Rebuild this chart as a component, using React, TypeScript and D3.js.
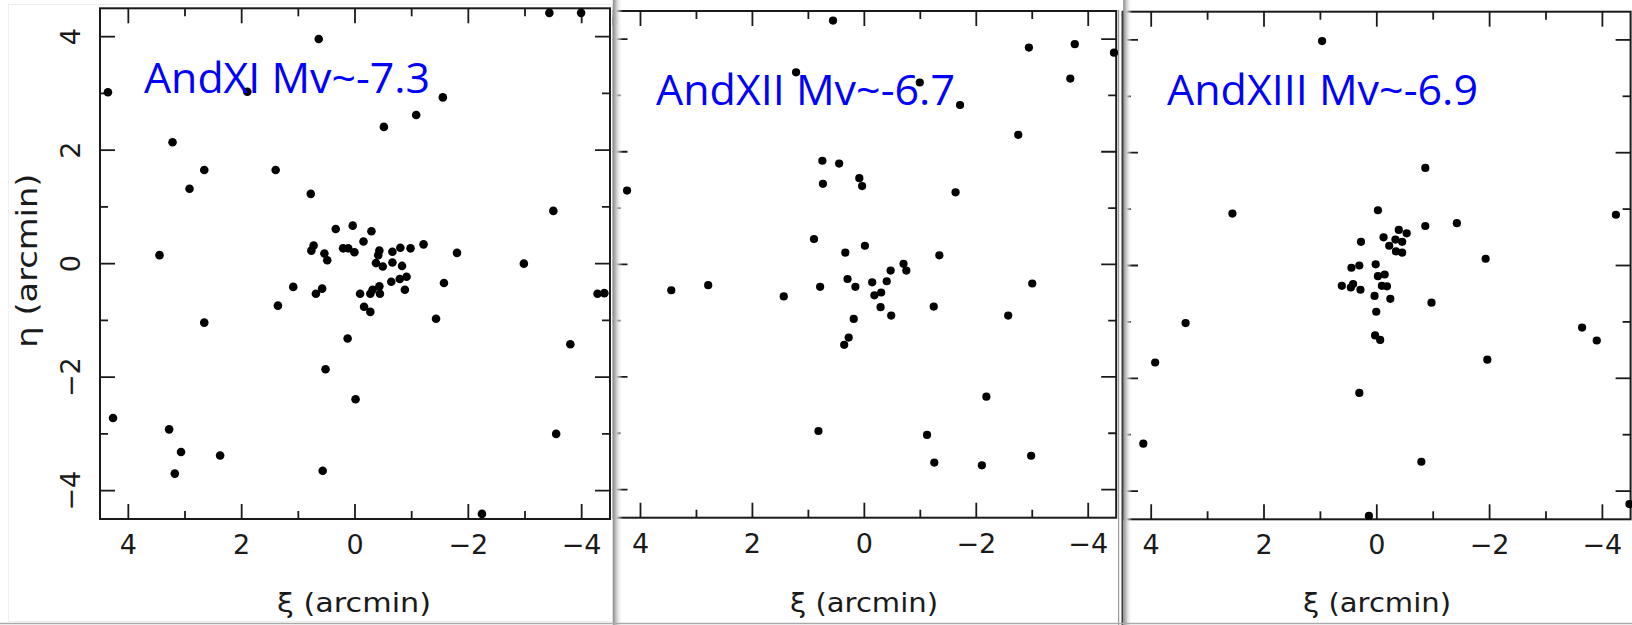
import React from 'react';
import * as d3 from 'd3';

// ---------- data ----------
const majorTicks = [4, 2, 0, -2, -4];
const majorTickLabels = ['4', '2', '0', '−2', '−4'];
const minorTicks = [3, 1, -1, -3];
const axisDomain: [number, number] = [4.5, -4.5];

const titles = ['AndXI Mv~-7.3', 'AndXII Mv~-6.7', 'AndXIII Mv~-6.9'];
const xLabel = 'ξ (arcmin)';
const yLabel = 'η (arcmin)';

const andXI_xi = [-3.43, -3.99, 0.64, 4.36, 1.9, -1.55, -1.08, -0.51, 3.22, 2.66, 1.4, 2.92, 0.78, -3.5, 0.34, 0.04, -0.29, -0.15, 0.73, 0.77, 0.21, 0.12, 0.01, -0.43, -0.41, -0.66, -0.8, -0.98, -1.21, -1.8, 3.45, 0.54, 0.49, -0.37, -0.49, -0.66, -0.83, -2.98, -0.91, -0.79, -0.64, -1.57, 1.09, 0.58, 0.69, -0.09, -0.31, -0.27, -0.43, -0.44, -0.88, -4.28, -4.4, 1.36, -0.16, -0.27, 2.66, -1.43, 0.13, -3.8, 0.52, -0.01, 4.27, 3.28, -3.55, 3.07, 2.38, 3.18, 0.57, -2.24];
const andXI_eta = [4.42, 4.42, 3.96, 3.02, 3.03, 2.93, 2.62, 2.41, 2.14, 1.65, 1.65, 1.32, 1.23, 0.93, 0.61, 0.67, 0.57, 0.39, 0.32, 0.23, 0.27, 0.27, 0.2, 0.23, 0.15, 0.21, 0.28, 0.27, 0.34, 0.19, 0.15, 0.18, 0.06, 0.01, -0.05, 0.02, -0.04, 0.0, -0.23, -0.27, -0.32, -0.34, -0.41, -0.44, -0.53, -0.53, -0.46, -0.53, -0.4, -0.53, -0.46, -0.53, -0.52, -0.74, -0.76, -0.85, -1.04, -0.97, -1.32, -1.42, -1.86, -2.39, -2.72, -2.92, -3.0, -3.32, -3.38, -3.7, -3.65, -4.41];

const andXII_xi = [4.49, 0.56, -2.94, -3.76, -4.46, -3.68, 1.22, -0.99, -1.71, -2.75, 0.75, 0.45, 0.74, 0.09, 0.04, 4.24, -1.63, 0.9, -0.01, 0.34, -1.34, -0.7, -0.75, -0.47, 0.3, 0.16, -0.14, -0.4, 0.79, 2.79, 3.45, 1.44, -0.18, -0.3, -0.29, -0.48, -3.0, -1.24, -2.57, 0.19, 0.28, 0.36, -2.18, 0.82, -1.12, -1.25, -2.1, -2.98];
const andXII_eta = [4.31, 4.33, 3.85, 3.91, 3.76, 3.3, 3.41, 3.23, 2.83, 2.3, 1.84, 1.79, 1.43, 1.53, 1.39, 1.31, 1.28, 0.45, 0.33, 0.21, 0.16, 0.01, -0.11, -0.11, -0.26, -0.4, -0.32, -0.3, -0.4, -0.37, -0.46, -0.57, -0.55, -0.5, -0.76, -0.91, -0.34, -0.75, -0.91, -0.97, -1.3, -1.43, -2.35, -2.96, -3.03, -3.52, -3.57, -3.4];

const andXIII_xi = [0.97, -0.86, 2.56, -0.02, -4.24, -0.86, -1.42, -0.39, -0.53, -0.12, -0.33, -0.45, -0.22, -0.34, -0.45, 0.28, -1.93, 0.45, 0.31, 0.02, -0.02, -0.14, 0.62, 0.46, 0.42, 0.29, -0.09, -0.18, -0.24, 0.04, -0.97, 0.01, 3.39, 0.03, -0.06, -3.64, -3.9, 3.93, -1.96, 0.31, 4.14, -0.79, 0.14, -4.48];
const andXIII_eta = [3.98, 1.73, 0.92, 0.98, 0.9, 0.7, 0.75, 0.63, 0.57, 0.5, 0.46, 0.42, 0.35, 0.25, 0.23, 0.42, 0.12, -0.04, 0.0, 0.02, -0.19, -0.16, -0.36, -0.39, -0.33, -0.43, -0.36, -0.37, -0.59, -0.54, -0.66, -0.82, -1.02, -1.24, -1.32, -1.1, -1.33, -1.72, -1.67, -2.26, -3.16, -3.48, -4.44, -4.23];

const seriesXi = [andXI_xi, andXII_xi, andXIII_xi];
const seriesEta = [andXI_eta, andXII_eta, andXIII_eta];

// ---------- layout ----------
type Layout = {
  x0: number; x1: number; y0: number; y1: number;
  clipX0: number; clipX1: number;
  titleX: number; titleY: number; titleLen: number;
  xLabelX: number; xLabelLen: number;
  showY: boolean; r: number;
};

const layouts: Layout[] = [
  { x0: 100, x1: 610, y0: 8.3, y1: 519, clipX0: 0, clipX1: 612.5, titleX: 144, titleY: 92.5, titleLen: 286, xLabelX: 354, xLabelLen: 154, showY: true, r: 4.3 },
  { x0: 612.5, x1: 1116.2, y0: 11, y1: 517.7, clipX0: 612.8, clipX1: 1118.6, titleX: 656, titleY: 104.5, titleLen: 299, xLabelX: 864, xLabelLen: 148, showY: false, r: 4.1 },
  { x0: 1123, x1: 1630.6, y0: 11.7, y1: 519.3, clipX0: 1121.5, clipX1: 1632, titleX: 1167, titleY: 104.5, titleLen: 311, xLabelX: 1377, xLabelLen: 148, showY: false, r: 4.1 },
];

const tickFont = '"DejaVu Sans", sans-serif';
const titleFont = '"Open Sans", "Noto Sans", sans-serif';

function Panel({ i }: { i: number }) {
  const L = layouts[i];
  const xs = d3.scaleLinear().domain(axisDomain).range([L.x0, L.x1]);
  const ys = d3.scaleLinear().domain([-4.5, 4.5]).range([L.y1, L.y0]);
  const xi = seriesXi[i];
  const eta = seriesEta[i];
  const major = 15;
  const minor = 8;
  const stroke = '#1a1a1a';
  const ticks: JSX.Element[] = [];
  const addTicks = (vals: number[], len: number, key: string) => {
    vals.forEach((v, k) => {
      const x = xs(v);
      const y = ys(v);
      ticks.push(<line key={`${key}b${k}`} x1={x} x2={x} y1={L.y1} y2={L.y1 - len} />);
      ticks.push(<line key={`${key}t${k}`} x1={x} x2={x} y1={L.y0} y2={L.y0 + len} />);
      ticks.push(<line key={`${key}l${k}`} x1={L.x0} x2={L.x0 + len} y1={y} y2={y} />);
      ticks.push(<line key={`${key}r${k}`} x1={L.x1} x2={L.x1 - len} y1={y} y2={y} />);
    });
  };
  addTicks(majorTicks, major, 'M');
  addTicks(minorTicks, minor, 'm');

  return (
    <g clipPath={`url(#clip${i})`}>
      <g stroke={stroke} strokeWidth={1.8} fill="none">
        <rect x={L.x0} y={L.y0} width={L.x1 - L.x0} height={L.y1 - L.y0} strokeWidth={2} />
        {ticks}
      </g>
      <g fill="#000">
        {xi.map((v, k) => (
          <circle key={k} cx={xs(v)} cy={ys(eta[k])} r={L.r} />
        ))}
      </g>
      <g fontFamily={tickFont} fontSize={27} fill="#1a1a1a" textAnchor="middle">
        {majorTicks.map((v, k) => (
          <text key={k} x={xs(v)} y={L.y1 + 35}>{majorTickLabels[k]}</text>
        ))}
        {L.showY && majorTicks.map((v, k) => (
          <text key={`y${k}`} transform={`translate(80,${ys(v)}) rotate(-90)`}>{majorTickLabels[k]}</text>
        ))}
        <text x={L.xLabelX} y={612} textLength={L.xLabelLen} lengthAdjust="spacingAndGlyphs">{xLabel}</text>
        {L.showY && (
          <text transform={`translate(37,${(L.y0 + L.y1) / 2 - 3}) rotate(-90)`} fontSize={28} textLength={174} lengthAdjust="spacingAndGlyphs">{yLabel}</text>
        )}
      </g>
      <text x={L.titleX} y={L.titleY} fontFamily={titleFont} fontSize={42.5} fill="#0000ff" textLength={L.titleLen} lengthAdjust="spacingAndGlyphs">{titles[i]}</text>
    </g>
  );
}

export default function App() {
  return (
    <svg width={1632} height={625} style={{ position: 'absolute', left: 0, top: 0, background: '#fff' }}>
      <defs>
        {layouts.map((L, i) => (
          <clipPath key={i} id={`clip${i}`}>
            <rect x={L.clipX0} y={0} width={L.clipX1 - L.clipX0} height={625} />
          </clipPath>
        ))}
        <linearGradient id="shadow" x1="0" x2="1" y1="0" y2="0">
          <stop offset="0" stopColor="#8a8a8a" />
          <stop offset="0.35" stopColor="#c8c8c8" />
          <stop offset="1" stopColor="#ffffff" stopOpacity={0} />
        </linearGradient>
      </defs>
      <rect x={0} y={0} width={1632} height={625} fill="#fff" />
      <rect x={8.5} y={4.5} width={604} height={617} fill="none" stroke="#efefef" strokeWidth={1} />
      {layouts.map((_, i) => <Panel key={i} i={i} />)}
      <rect x={612.8} y={0} width={10} height={625} fill="url(#shadow)" />
      <line x1={1118.6} x2={1118.6} y1={10} y2={625} stroke="#9a9a9a" strokeWidth={1.2} />
      <line x1={1122.3} x2={1122.3} y1={11} y2={625} stroke="#3a3a3a" strokeWidth={1.6} />
      <rect x={1123.2} y={0} width={9} height={625} fill="url(#shadow)" />
      <line x1={0} x2={1632} y1={623.5} y2={623.5} stroke="#aaaaaa" strokeWidth={1.5} />
    </svg>
  );
}
